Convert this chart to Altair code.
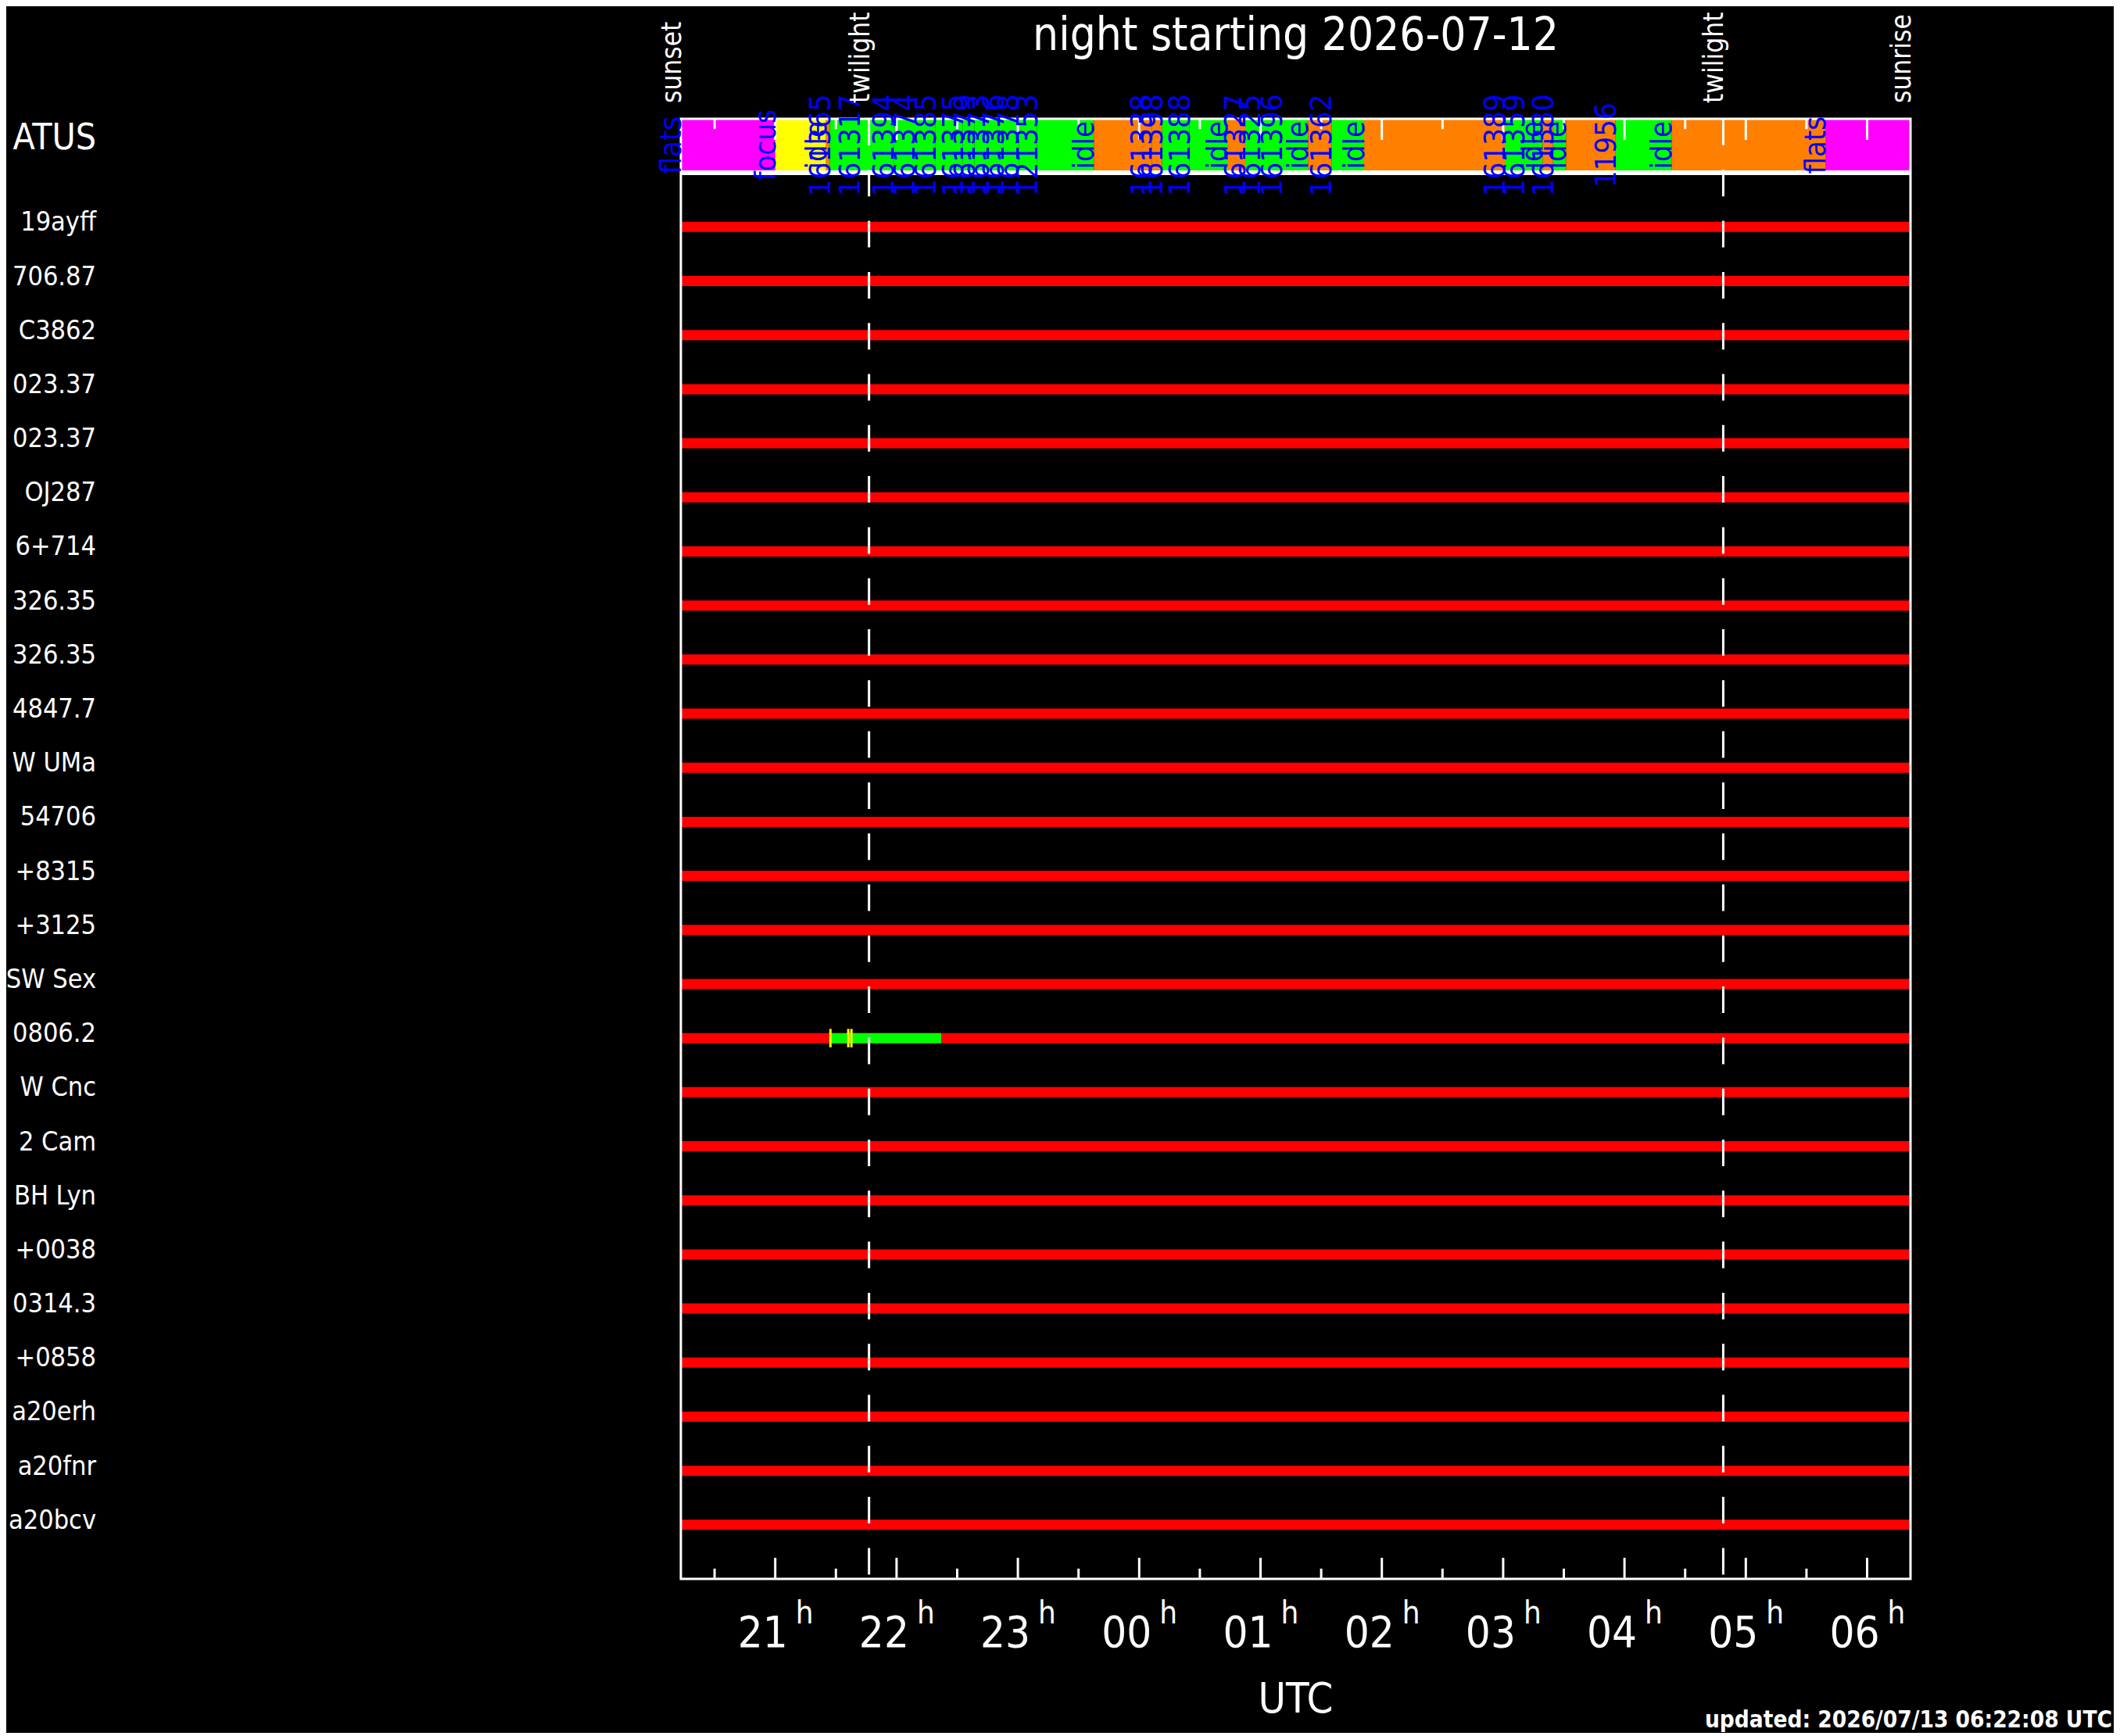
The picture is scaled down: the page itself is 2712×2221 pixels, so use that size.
import altair as alt
import pandas as pd

# ---------------- data ----------------
title_text = "night starting 2026-07-12"
updated_text = "updated: 2026/07/13 06:22:08 UTC"

night_start = "20:13:20"
night_end = "06:21:27"

event_names = ["sunset", "twilight", "twilight", "sunrise"]
event_times = ["20:13:20", "21:46:23", "04:48:50", "06:21:27"]
twilight_times = ["21:46:23", "04:48:50"]

seg_starts = ["20:13:20", "21:00:00", "21:25:08", "21:27:04", "21:41:52", "21:58:36",
              "22:08:56", "22:19:15", "22:32:47", "22:38:35", "22:45:40", "22:53:00",
              "23:00:28", "23:09:31", "23:37:35", "00:06:11", "00:11:22", "00:24:54",
              "00:43:34", "00:52:28", "00:59:48", "01:10:38", "01:23:30", "01:35:06",
              "01:51:14", "03:00:49", "03:10:29", "03:19:29", "03:24:40", "03:31:05",
              "03:55:36", "04:23:16", "05:39:19"]
seg_labels = ["flats", "focus", "idle", "161365", "161317", "161394",
              "161374", "161385", "161375", "161379", "161373", "161376",
              "161378", "121353", "idle", "161338", "161398", "161388",
              "idle", "161327", "161325", "161396", "idle", "161362",
              "idle", "161389", "161359", "idle", "161380", "idle",
              "11956", "idle", "flats"]
seg_kinds = ["flats", "focus", "idle", "done", "done", "done",
             "done", "done", "done", "done", "done", "done",
             "done", "done", "idle", "failed", "done", "done",
             "idle", "done", "done", "done", "idle", "done",
             "idle", "done", "done", "idle", "done", "idle",
             "done", "idle", "flats"]
kind_names = ["flats", "focus", "idle", "failed", "done"]
kind_colors = ["#ff00ff", "#ffff00", "#ff8000", "#ff8000", "#00ff00"]

row_names = ["ATUS", "19ayff", "706.87", "C3862", "023.37", "023.37", "OJ287",
             "6+714", "326.35", "326.35", "4847.7", "W  UMa", "54706", "+8315",
             "+3125", "SW Sex", "0806.2", "W  Cnc", "2  Cam", "BH  Lyn", "+0038",
             "0314.3", "+0858", "a20erh", "a20fnr", "a20bcv"]

obs_row = 16
obs_start = "21:27:40"
obs_end = "22:22:05"
exposure_marks = ["21:27:18", "21:36:07", "21:37:41"]

tick_hours = [21, 22, 23, 24, 25, 26, 27, 28, 29, 30]
tick_labels = ["21", "22", "23", "00", "01", "02", "03", "04", "05", "06"]
half_hours = [20.5, 21.5, 22.5, 23.5, 24.5, 25.5, 26.5, 27.5, 28.5, 29.5]


def to_hours(t):
    h, m, s = (int(v) for v in t.split(":"))
    v = h + m / 60 + s / 3600
    return v + 24 if h < 12 else v


x0 = to_hours(night_start)
x1 = to_hours(night_end)

# ---------------- layout ----------------
W, H = 1573, 1868
FONT = "DejaVu Sans Condensed, Liberation Sans Narrow, DejaVu Sans"
TICK_L, TICK_S = 0.39, 0.19
ROW_TOP, ROW_BOT = -1.0, 26.0
BAR_BOT = -0.025
FRAME_TOP = 0.02

xs = alt.Scale(domain=[x0, x1], nice=False, zero=False)
ys = alt.Scale(domain=[ROW_TOP, ROW_BOT], nice=False, zero=False, reverse=True)


def X(f):
    return alt.X(f, type="quantitative", scale=xs, axis=None)


def Y(f):
    return alt.Y(f, type="quantitative", scale=ys, axis=None)


# data frames
starts_h = [to_hours(t) for t in seg_starts]
ends_h = starts_h[1:] + [x1]
seg_df = pd.DataFrame({"start": starts_h, "end": ends_h, "label": seg_labels,
                       "kind": seg_kinds})
seg_df["ya"] = ROW_TOP
seg_df["yb"] = BAR_BOT
seg_df["ym"] = (ROW_TOP + BAR_BOT) / 2
color_scale = alt.Scale(domain=kind_names, range=kind_colors)

rows_df = pd.DataFrame({"row": list(range(len(row_names))), "name": row_names})
rows_df["ypos"] = rows_df["row"].astype(float)
rows_df.loc[0, "ypos"] = (ROW_TOP + BAR_BOT) / 2
rows_df["fs"] = [46] + [34] * (len(row_names) - 1)

lines_df = pd.DataFrame({"row": list(range(1, len(row_names)))})
lines_df["start"] = x0
lines_df["end"] = x1

obs_df = pd.DataFrame({"row": [obs_row], "start": [to_hours(obs_start)],
                       "end": [to_hours(obs_end)]})
exp_df = pd.DataFrame({"t": [to_hours(t) for t in exposure_marks]})
exp_df["y0"] = obs_row - 0.17
exp_df["y1"] = obs_row + 0.17

ev_df = pd.DataFrame({"t": [to_hours(t) for t in event_times], "name": event_names})
ev_df["ya"] = ROW_TOP

tw_df = pd.DataFrame({"t": [to_hours(t) for t in twilight_times]})
tw_df["ya"] = ROW_TOP
tw_df["yb"] = ROW_BOT

ticks_df = pd.DataFrame({
    "t": tick_hours + half_hours,
    "len": [TICK_L] * len(tick_hours) + [TICK_S] * len(half_hours),
})
ticks_df["top1"] = ROW_TOP
ticks_df["top2"] = ROW_TOP + ticks_df["len"]
ticks_df["bot1"] = ROW_BOT
ticks_df["bot2"] = ROW_BOT - ticks_df["len"]
lab_df = pd.DataFrame({"t": tick_hours, "lab": tick_labels})

frames_df = pd.DataFrame({"xa": [x0, x0], "xb": [x1, x1],
                          "ya": [ROW_TOP, FRAME_TOP], "yb": [BAR_BOT, ROW_BOT]})
one_df = pd.DataFrame({"k": [0]})

layers = []

# status bar segments
layers.append(alt.Chart(seg_df).mark_rect().encode(
    x=X("start"), x2="end", y=Y("ya"), y2="yb",
    color=alt.Color("kind:N", scale=color_scale, legend=None)))

# red target lines
layers.append(alt.Chart(lines_df).mark_rule(color="#ff0000", strokeWidth=13).encode(
    x=X("start"), x2="end", y=Y("row")))

# observed interval
layers.append(alt.Chart(obs_df).mark_rule(color="#00ff00", strokeWidth=13).encode(
    x=X("start"), x2="end", y=Y("row")))

# exposure marks
layers.append(alt.Chart(exp_df).mark_rule(color="#ffff00", strokeWidth=3).encode(
    x=X("t"), y=Y("y0"), y2="y1"))

# status outline and main frame
layers.append(alt.Chart(frames_df).mark_rect(
    fillOpacity=0, stroke="white", strokeWidth=3).encode(
    x=X("xa"), x2="xb", y=Y("ya"), y2="yb"))

# twilight dashed lines
layers.append(alt.Chart(tw_df).mark_rule(
    color="white", strokeWidth=3, strokeDash=[34, 31.3]).encode(
    x=X("t"), y=Y("ya"), y2="yb"))

# ticks at top of status bar and at bottom of frame
layers.append(alt.Chart(ticks_df).mark_rule(color="white", strokeWidth=3).encode(
    x=X("t"), y=Y("top1"), y2="top2"))
layers.append(alt.Chart(ticks_df).mark_rule(color="white", strokeWidth=3).encode(
    x=X("t"), y=Y("bot1"), y2="bot2"))

# hour labels
layers.append(alt.Chart(lab_df).mark_text(
    color="white", font=FONT, fontSize=56, align="center", baseline="alphabetic",
    dx=-16).encode(x=X("t"), y=alt.value(1955), text="lab:N"))
layers.append(alt.Chart(lab_df).mark_text(
    color="white", font=FONT, fontSize=40, align="left", baseline="alphabetic",
    dx=26).encode(x=X("t"), y=alt.value(1925), text=alt.value("h")))

# segment labels
layers.append(alt.Chart(seg_df).mark_text(
    color="#0000ff", font=FONT, fontSize=38, angle=270, align="center",
    baseline="alphabetic").encode(x=X("start"), y=Y("ym"), text="label:N"))

# event labels
layers.append(alt.Chart(ev_df).mark_text(
    color="white", font=FONT, fontSize=35, angle=270, align="left",
    baseline="alphabetic", dx=20).encode(x=X("t"), y=Y("ya"), text="name:N"))

# row labels
layers.append(alt.Chart(rows_df).mark_text(
    color="white", font=FONT, align="right", baseline="alphabetic", dy=5).encode(
    x=alt.value(-748), y=Y("ypos"), text="name:N",
    size=alt.Size("fs:Q", scale=None, legend=None)))

# title, axis title, update stamp
layers.append(alt.Chart(one_df).mark_text(
    color="white", font=FONT, fontSize=58, align="center", baseline="alphabetic").encode(
    x=alt.value(W / 2), y=alt.value(-88), text=alt.value(title_text)))
layers.append(alt.Chart(one_df).mark_text(
    color="white", font=FONT, fontSize=54, align="center", baseline="alphabetic").encode(
    x=alt.value(W / 2), y=alt.value(2039), text=alt.value("UTC")))
layers.append(alt.Chart(one_df).mark_text(
    color="white", font=FONT, fontSize=29.5, fontWeight="bold", align="right",
    baseline="alphabetic").encode(
    x=alt.value(W + 258), y=alt.value(2058), text=alt.value(updated_text)))

chart = alt.layer(*layers).properties(
    width=W, height=H, background="black",
    padding={"left": 863, "top": 144, "right": 260, "bottom": 197},
    autosize=alt.AutoSizeParams(type="none"),
).configure_view(stroke=None)

chart.save("out.html", embed_options={"renderer": "svg", "actions": False})
